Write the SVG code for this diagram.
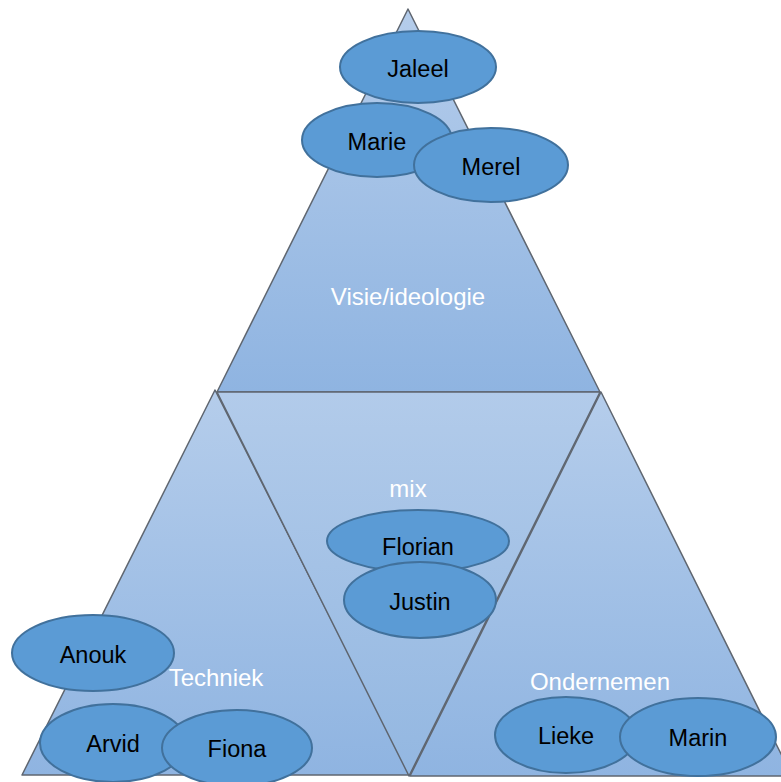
<svg xmlns="http://www.w3.org/2000/svg" width="781" height="782" viewBox="0 0 781 782">
<style>
.tri{stroke:#5f6670;stroke-width:1.5;stroke-linejoin:round}
.el{fill:#5b9bd5;stroke:#41719c;stroke-width:2}
.nt{font-family:"Liberation Sans",Arial,sans-serif;font-size:23.5px;fill:#000;text-anchor:middle;dominant-baseline:central}
.lb{font-family:"Liberation Sans",Arial,sans-serif;font-size:24px;fill:#fff;text-anchor:middle;dominant-baseline:central}
</style>
<defs>
<linearGradient id="gUp" x1="0" y1="0" x2="0" y2="1">
<stop offset="0" stop-color="#b5cdeb"/>
<stop offset="1" stop-color="#8fb4e1"/>
</linearGradient>
<linearGradient id="gDown" x1="0" y1="0" x2="0" y2="1">
<stop offset="0" stop-color="#b2cbea"/>
<stop offset="1" stop-color="#93b7e1"/>
</linearGradient>
</defs>
<g id="shapes">
<polygon id="top" class="tri" fill="url(#gUp)" points="408,9 217,392 600,392"/>
<polygon id="left" class="tri" fill="url(#gUp)" points="215,390 22,775 410,775"/>
<polygon id="mid" class="tri" fill="url(#gDown)" points="217,392 600,392 409,776"/>
<polygon id="right" class="tri" fill="url(#gUp)" points="601,392 410,776 792,776"/>
</g>
<g id="labels">
<text class="lb" x="408" y="296">Visie/ideologie</text>
<text class="lb" x="408" y="488">mix</text>
<text class="lb" x="216" y="677">Techniek</text>
<text class="lb" x="600" y="681">Ondernemen</text>
</g>
<g id="connectors"></g>
<g id="jaleel"><ellipse class="el" cx="418" cy="67" rx="78" ry="36"/><text class="nt" x="418" y="69">Jaleel</text></g>
<g id="marie"><ellipse class="el" cx="377" cy="140" rx="75" ry="37"/><text class="nt" x="377" y="142">Marie</text></g>
<g id="merel"><ellipse class="el" cx="491" cy="165" rx="77" ry="37"/><text class="nt" x="491" y="167">Merel</text></g>
<g id="florian"><ellipse class="el" cx="418" cy="541" rx="91" ry="31"/><text class="nt" x="418" y="547">Florian</text></g>
<g id="justin"><ellipse class="el" cx="420" cy="600" rx="76" ry="38"/><text class="nt" x="420" y="602">Justin</text></g>
<g id="anouk"><ellipse class="el" cx="93" cy="653" rx="81" ry="38"/><text class="nt" x="93" y="655">Anouk</text></g>
<g id="arvid"><ellipse class="el" cx="113" cy="743" rx="73" ry="39"/><text class="nt" x="113" y="744">Arvid</text></g>
<g id="fiona"><ellipse class="el" cx="237" cy="748" rx="75" ry="38"/><text class="nt" x="237" y="749">Fiona</text></g>
<g id="lieke"><ellipse class="el" cx="566" cy="735" rx="71" ry="38"/><text class="nt" x="566" y="736">Lieke</text></g>
<g id="marin"><ellipse class="el" cx="698" cy="737" rx="78" ry="39"/><text class="nt" x="698" y="738">Marin</text></g>
</svg>
